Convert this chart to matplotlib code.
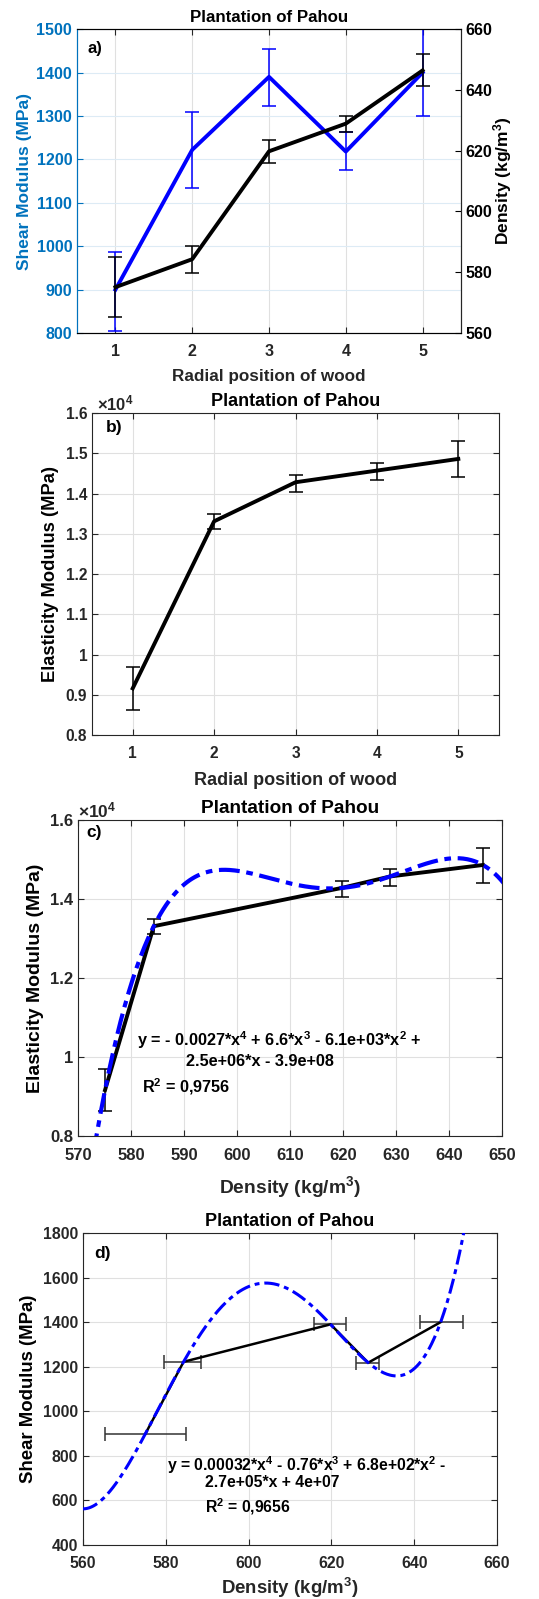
import numpy as np
import matplotlib
matplotlib.use('Agg')
import matplotlib.pyplot as plt
from matplotlib.ticker import FuncFormatter

plt.rcParams['font.family'] = ['Liberation Sans', 'DejaVu Sans']
plt.rcParams['font.weight'] = 'bold'
plt.rcParams['axes.labelweight'] = 'bold'
plt.rcParams['axes.titleweight'] = 'bold'
plt.rcParams['mathtext.fontset'] = 'custom'
plt.rcParams['mathtext.rm'] = 'Liberation Sans:bold'
plt.rcParams['mathtext.bf'] = 'Liberation Sans:bold'
plt.rcParams['mathtext.it'] = 'Liberation Sans:bold'
plt.rcParams['mathtext.default'] = 'regular'

# data
position = [1, 2, 3, 4, 5]
shear = [900, 1222, 1390, 1218, 1400]          # MPa
shear_lo = [805, 1134, 1323, 1176, 1301]
shear_hi = [987, 1309, 1454, 1263, 1500]
density = [575.1, 584.3, 619.8, 628.9, 646.4]  # kg/m3
dens_lo = [565.4, 579.6, 615.8, 626.0, 641.3]
dens_hi = [584.9, 588.6, 623.5, 631.4, 651.9]
elastic = [9160, 13310, 14280, 14570, 14860]   # MPa
elas_lo = [8630, 13120, 14050, 14340, 14410]
elas_hi = [9700, 13490, 14460, 14750, 15300]

shear = np.array(shear); density = np.array(density); elastic = np.array(elastic)
shear_err = [shear - np.array(shear_lo), np.array(shear_hi) - shear]
dens_err = [density - np.array(dens_lo), np.array(dens_hi) - density]
elas_err = [elastic - np.array(elas_lo), np.array(elas_hi) - elastic]

mblue = (0.0, 0.447, 0.741)
axcol = '#262626'
gridcol = '#e0e0e0'

fig = plt.figure(figsize=(5.39, 15.99), dpi=100)


def style(ax, fs=11.5, xpad=7.8):
    ax.tick_params(direction='in', top=True, right=True, labelsize=fs,
                   colors=axcol, length=4)
    ax.tick_params(axis='x', pad=xpad)
    for s in ax.spines.values():
        s.set_color(axcol)
        s.set_linewidth(0.8)
    ax.grid(True, color=gridcol, lw=0.8)
    ax.set_axisbelow(True)


# ---- a) shear modulus and density vs radial position
ax1 = fig.add_axes([0.1429, 0.7917, 0.7124, 0.1901])
style(ax1)
ax1.tick_params(right=False)
ax1.errorbar(position, shear, yerr=shear_err, color='blue', lw=2.8,
             elinewidth=1.1, capsize=5, capthick=1.1, zorder=3)
ax1.set_xlim(0.5, 5.5)
ax1.set_ylim(800, 1500)
ax1.set_xticks(position)
ax1.set_yticks(np.arange(800, 1501, 100))
ax1.yaxis.grid(True, color='#ddebf5')
ax1.tick_params(axis='y', colors=mblue)
ax1.spines['left'].set_color(mblue)
ax1.set_ylabel('Shear Modulus (MPa)', color=mblue, fontsize=12.5, labelpad=3)
ax1.set_xlabel('Radial position of wood', fontsize=12.3, color=axcol, labelpad=7)
ax1.set_title('Plantation of Pahou', fontsize=12.2, pad=5)
ax1.text(0.028, 0.935, 'a)', transform=ax1.transAxes, fontsize=12, va='center')

ax1r = ax1.twinx()
ax1r.errorbar(position, density, yerr=dens_err, color='black', lw=2.8,
              elinewidth=1.1, capsize=5, capthick=1.1, zorder=3)
ax1r.set_ylim(560, 660)
ax1r.set_yticks(np.arange(560, 661, 20))
ax1r.tick_params(direction='in', labelsize=11.5, colors='black', length=4)
ax1r.spines['left'].set_color(mblue)
ax1r.spines['right'].set_color(axcol)
ax1r.set_ylabel('Density (kg/m$^3$)', fontsize=12.5, labelpad=-1.5)

# ---- b) elasticity modulus vs radial position
ax2 = fig.add_axes([0.1707, 0.5403, 0.7551, 0.2014])
style(ax2, fs=11.2)
ax2.errorbar(position, elastic, yerr=elas_err, color='black', lw=2.8,
             elinewidth=1.1, capsize=5, capthick=1.1, zorder=3)
ax2.set_xlim(0.5, 5.5)
ax2.set_ylim(8000, 16000)
ax2.set_xticks(position)
ax2.set_yticks(np.arange(8000, 16001, 1000))
ax2.yaxis.set_major_formatter(FuncFormatter(lambda v, p: '%g' % (v / 1e4)))
ax2.set_ylabel('Elasticity Modulus (MPa)', fontsize=13.2, labelpad=5)
ax2.set_xlabel('Radial position of wood', fontsize=13, color=axcol, labelpad=8)
ax2.set_title('Plantation of Pahou', fontsize=13, pad=5)
ax2.text(0.012, 1.0, r'$\times$10$^4$', transform=ax2.transAxes, fontsize=12,
         va='bottom', ha='left', color=axcol)
ax2.text(0.035, 0.955, 'b)', transform=ax2.transAxes, fontsize=12.5, va='center')

# ---- c) elasticity modulus vs density with quartic fit
ax3 = fig.add_axes([0.1447, 0.2896, 0.7866, 0.1976])
style(ax3, fs=12, xpad=8.5)
fit_c = np.polynomial.Polynomial.fit(density, elastic, 4)
xc = np.linspace(560, 660, 400)
ax3.plot(xc, fit_c(xc), color='blue', lw=3, dashes=(5, 1.6, 1.6, 1.6), zorder=4)
ax3.errorbar(density, elastic, yerr=elas_err, color='black', lw=2.8,
             elinewidth=1.1, capsize=5, capthick=1.1, zorder=3)
ax3.set_xlim(570, 650)
ax3.set_ylim(8000, 16000)
ax3.set_xticks(np.arange(570, 651, 10))
ax3.set_yticks(np.arange(8000, 16001, 2000))
ax3.yaxis.set_major_formatter(FuncFormatter(lambda v, p: '%g' % (v / 1e4)))
ax3.set_ylabel('Elasticity Modulus (MPa)', fontsize=14, labelpad=4)
ax3.set_xlabel('Density (kg/m$^3$)', fontsize=13.9, color=axcol, labelpad=8.5)
ax3.set_title('Plantation of Pahou', fontsize=13.7, pad=5)
ax3.text(0.0, 1.0, r'$\times$10$^4$', transform=ax3.transAxes, fontsize=12.5,
         va='bottom', ha='left', color=axcol)
ax3.text(0.02, 0.96, 'c)', transform=ax3.transAxes, fontsize=12.5, va='center')
ax3.text(581.1, 10430, 'y = - 0.0027*x$^4$ + 6.6*x$^3$ - 6.1e+03*x$^2$ +',
         fontsize=11.7, va='center', ha='left')
ax3.text(590.3, 9885, '2.5e+06*x - 3.9e+08', fontsize=11.7, va='center', ha='left')
ax3.text(582.0, 9253, 'R$^2$ = 0,9756', fontsize=11.7, va='center', ha='left')

# ---- d) shear modulus vs density with quartic fit
ax4 = fig.add_axes([0.154, 0.0338, 0.768, 0.1951])
style(ax4, fs=11.4)
fit_d = np.polynomial.Polynomial.fit(density, shear, 4)
xd = np.linspace(560, 660, 400)
ax4.plot(xd, fit_d(xd), color='blue', lw=2.2, dashes=(5, 1.6, 1.6, 1.6), zorder=4)
ax4.errorbar(density, shear, xerr=dens_err, color='black', lw=1.8,
             elinewidth=1.1, capsize=5, capthick=1.1, zorder=3, ecolor='#333333')
ax4.set_xlim(560, 660)
ax4.set_ylim(400, 1800)
ax4.set_xticks(np.arange(560, 661, 20))
ax4.set_yticks(np.arange(400, 1801, 200))
ax4.set_ylabel('Shear Modulus (MPa)', fontsize=13.4, labelpad=4)
ax4.set_xlabel('Density (kg/m$^3$)', fontsize=13.4, color=axcol, labelpad=3.5)
ax4.set_title('Plantation of Pahou', fontsize=13, pad=5)
ax4.text(0.028, 0.935, 'd)', transform=ax4.transAxes, fontsize=12.5, va='center')
ax4.text(580.3, 760, 'y = 0.00032*x$^4$ - 0.76*x$^3$ + 6.8e+02*x$^2$ -',
         fontsize=11.3, va='center', ha='left')
ax4.text(589.5, 679, '2.7e+05*x + 4e+07', fontsize=11.3, va='center', ha='left')
ax4.text(589.5, 571, 'R$^2$ = 0,9656', fontsize=11.3, va='center', ha='left')

fig.savefig('out.png', dpi=100)
